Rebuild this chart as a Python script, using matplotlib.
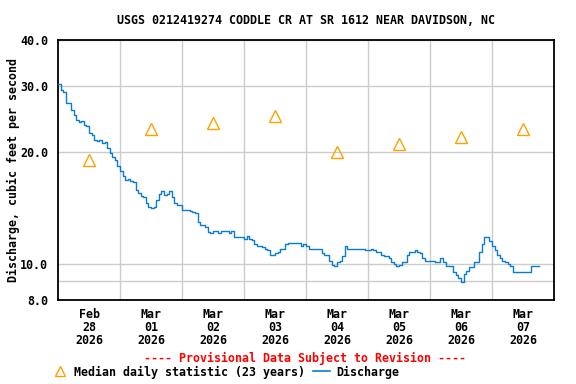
import numpy as np
import matplotlib
matplotlib.use("Agg")
import matplotlib.pyplot as plt
from matplotlib.lines import Line2D

# ---- data ----
day_labels = ["Feb\n28\n2026", "Mar\n01\n2026", "Mar\n02\n2026", "Mar\n03\n2026",
              "Mar\n04\n2026", "Mar\n05\n2026", "Mar\n06\n2026", "Mar\n07\n2026"]
median_daily = [19.0, 23.0, 24.0, 25.0, 20.0, 21.0, 22.0, 23.0]

# hourly discharge (cfs) starting Feb 28 00:00
discharge = [
    30.5, 29.3, 29.0, 27.1, 27.1, 25.9, 25.2, 24.4, 24.1, 24.2, 23.6, 23.5,
    22.5, 22.2, 21.5, 21.4, 21.5, 21.1, 21.3, 20.5, 19.9, 19.4, 19.0, 18.3,
    17.8, 17.2, 16.8, 16.9, 16.7, 16.6, 15.8, 15.5, 15.2, 15.1, 14.6, 14.2,
    14.1, 14.2, 14.9, 15.4, 15.7, 15.3, 15.4, 15.7, 15.1, 14.6, 14.4, 14.4,
    14.0, 14.0, 14.0, 13.9, 13.8, 13.7, 13.0, 12.7, 12.7, 12.6, 12.2, 12.1,
    12.3, 12.3, 12.1, 12.3, 12.3, 12.3, 12.1, 12.3, 11.8, 11.8, 11.8, 11.8,
    11.7, 11.9, 11.7, 11.6, 11.3, 11.2, 11.2, 11.1, 11.0, 10.9, 10.6, 10.6,
    10.7, 10.8, 11.0, 11.0, 11.3, 11.4, 11.4, 11.4, 11.4, 11.4, 11.2, 11.3,
    11.2, 11.0, 11.0, 11.0, 11.0, 11.0, 10.7, 10.6, 10.6, 10.2, 9.93, 9.87,
    10.1, 10.2, 10.5, 11.2, 11.0, 11.0, 11.0, 11.0, 11.0, 11.0, 11.0, 10.9,
    10.9, 11.0, 10.9, 10.8, 10.8, 10.6, 10.5, 10.5, 10.4, 10.1, 10.0, 9.87,
    9.93, 10.1, 10.1, 10.6, 10.8, 10.8, 10.9, 10.8, 10.7, 10.4, 10.2, 10.2,
    10.2, 10.2, 10.1, 10.1, 10.4, 10.1, 9.87, 9.87, 9.87, 9.51, 9.34, 9.17,
    8.94, 9.40, 9.57, 9.81, 9.81, 10.1, 10.1, 10.8, 11.3, 11.8, 11.8, 11.5,
    11.2, 10.9, 10.6, 10.4, 10.2, 10.1, 10.0, 9.87, 9.51, 9.51, 9.51, 9.51,
    9.51, 9.51, 9.51, 9.87, 9.87, 9.87, 9.87,
]
y_ticks = [8.0, 10.0, 20.0, 30.0, 40.0]
y_minor_grid = [9.0]

title = "USGS 0212419274 CODDLE CR AT SR 1612 NEAR DAVIDSON, NC"
ylabel = "Discharge, cubic feet per second"
provisional = "---- Provisional Data Subject to Revision ----"

# ---- plot ----
FONT = "DejaVu Sans Mono"
FS = 8.4
plt.rcParams['font.family'] = FONT
plt.rcParams['font.weight'] = 'bold'

fig = plt.figure(figsize=(5.76, 3.84), dpi=100)
ax = fig.add_axes([58/576, 1-300/384, (554-58)/576, (300-40)/384])

t = np.arange(len(discharge)) / 24.0
ax.plot(t, discharge, color="#0a7dcf", lw=1.0, drawstyle="steps-post", zorder=3)

xm = np.arange(len(median_daily)) + 0.5
ax.plot(xm, median_daily, linestyle="none", marker="^", markersize=8,
        markerfacecolor="none", markeredgecolor="#ffa000", markeredgewidth=1.0, zorder=4)

ax.set_yscale("log")
ax.set_ylim(8, 40)
ax.set_xlim(0, 8)
ax.yaxis.set_major_locator(matplotlib.ticker.FixedLocator(y_ticks))
ax.yaxis.set_minor_locator(matplotlib.ticker.FixedLocator(y_minor_grid))
ax.yaxis.set_major_formatter(matplotlib.ticker.FixedFormatter([f"{v:.1f}" for v in y_ticks]))
ax.yaxis.set_minor_formatter(matplotlib.ticker.NullFormatter())

ax.set_xticks(np.arange(1, 8), minor=False)
ax.set_xticklabels([""] * 7)
ax.set_xticks(np.arange(8) + 0.5, minor=True)
ax.set_xticklabels(day_labels, minor=True, fontsize=FS, fontweight="bold",
                   linespacing=1.0)

ax.tick_params(axis="both", which="both", length=0)
ax.tick_params(axis="y", pad=7, labelsize=FS)
ax.tick_params(axis="x", which="minor", pad=6)

ax.grid(True, which="major", axis="x", color="#cccccc", lw=1.0)
ax.grid(True, which="both", axis="y", color="#cccccc", lw=1.0)
ax.set_axisbelow(True)
for s in ax.spines.values():
    s.set_linewidth(1.3)
    s.set_color("black")

ax.set_ylabel(ylabel, fontsize=FS, fontweight="bold", labelpad=0.5)
fig.text(306/576, 1-20/384, title, ha="center", va="center", fontsize=FS, fontweight="bold")
fig.text(305/576, 1-358/384, provisional, ha="center", va="center", fontsize=FS,
         fontweight="bold", color="red")

h1 = Line2D([], [], linestyle="none", marker="^", markersize=7.5, markerfacecolor="none",
            markeredgecolor="#ffa000", markeredgewidth=1.0)
h2 = Line2D([], [], color="#0a7dcf", lw=1.2)
fig.legend([h1, h2], ["Median daily statistic (23 years)", "Discharge"],
           loc="center", bbox_to_anchor=(225/576, 1-372/384), ncol=2, frameon=False,
           fontsize=FS, handlelength=1.5, handletextpad=0.5, columnspacing=0.6,
           borderpad=0, borderaxespad=0)

fig.savefig("out.png", dpi=100)
